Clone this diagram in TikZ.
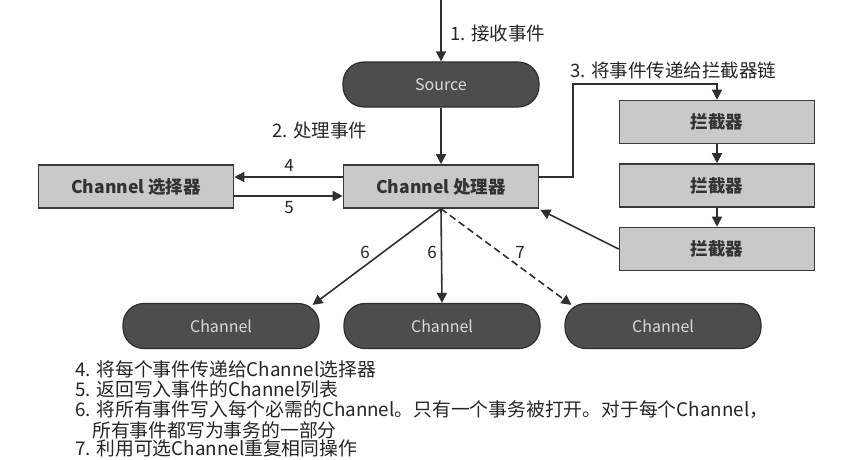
\documentclass[tikz,border=0pt]{standalone}
\usepackage{fontspec}
\setmainfont{Noto Sans CJK SC}
\usetikzlibrary{arrows.meta,calc}
\definecolor{pillfill}{HTML}{4D4D4D}
\definecolor{pillline}{HTML}{2E2E2E}
\definecolor{pilltext}{HTML}{DADADA}
\definecolor{boxfill}{HTML}{C9C9C9}
\definecolor{boxline}{HTML}{3A3A3A}
\definecolor{boxtext}{HTML}{333333}
\definecolor{linec}{HTML}{303030}
\definecolor{labc}{HTML}{262626}
\begin{document}
\begin{tikzpicture}[x=1pt,y=-1pt,
  pill/.style={rectangle,rounded corners=21pt,fill=pillfill,draw=pillline,line width=1.2pt,
     minimum width=196pt,minimum height=45pt,text=pilltext,font=\fontsize{16}{19}\selectfont,inner sep=0pt},
  gbox/.style={rectangle,fill=boxfill,draw=boxline,line width=1.6pt,
     minimum width=195pt,minimum height=43pt,text=boxtext,font=\fontsize{17.5}{20}\selectfont\bfseries,inner sep=0pt},
  arr/.style={draw=linec,line width=1.6pt,-{Triangle[length=10pt,width=10pt]}},
  lab/.style={text=labc,font=\fontsize{18.5}{21}\selectfont,inner sep=0pt},
  numlab/.style={text=labc,font=\fontsize{17}{20}\selectfont,inner sep=0pt},
  note/.style={text=labc,font=\fontsize{18.8}{21}\selectfont,inner sep=0pt,anchor=west}]
\useasboundingbox[fill=white] (0,0) rectangle (845,459);

% nodes
\node[pill] (source) at (441,84.5) {Source};
\node[gbox] (proc) at (441,186.5) {Channel 处理器};
\node[gbox] (sel) at (136,186.5) {Channel 选择器};
\node[gbox] (i1) at (717,122) {拦截器};
\node[gbox] (i2) at (717,185.5) {拦截器};
\node[gbox] (i3) at (717,249) {拦截器};
\node[pill] (ch1) at (221,326) {Channel};
\node[pill] (ch2) at (442,326) {Channel};
\node[pill] (ch3) at (663,326) {Channel};

\coordinate (top) at (441,0);
\coordinate (c3) at (573,84);

% connectors
\draw[arr] (top) -- (source.north);
\draw[arr] (source) -- (proc);
\draw[arr] ([yshift=9.5pt]proc.west) -- ([yshift=9.5pt]sel.east);
\draw[arr] ([yshift=-9.5pt]sel.east) -- ([yshift=-9.5pt]proc.west);
\draw[arr] ([yshift=9.5pt]proc.east) -| (c3) -| (i1.north);
\draw[arr] (i1) -- (i2);
\draw[arr] (i2) -- (i3);
\draw[arr] (i3.west) -- ([xshift=1pt,yshift=-1pt]proc.south east);
\draw[arr] (proc.south) -- ([xshift=-7pt,yshift=-2pt]ch1.north east);
\draw[arr] (proc.south) -- (ch2.north);
\draw[arr,dashed,dash pattern=on 7pt off 4pt] (proc.south) -- ([xshift=7pt,yshift=-2pt]ch3.north west);

% labels
\node[lab,anchor=west] (l1) at (450,33) {1. 接收事件};
\node[lab,anchor=west] (l2) at (272,130) {2. 处理事件};
\node[lab,anchor=west] (l3) at (570,70) {3. 将事件传递给拦截器链};
\node[numlab] (l4) at (289,165) {4};
\node[numlab] (l5) at (289,208) {5};
\node[numlab] (l6a) at (365,252) {6};
\node[numlab] (l6b) at (432,252) {6};
\node[numlab] (l7) at (520,252) {7};

% notes
\node[note] (n4) at (75,369) {4. 将每个事件传递给Channel选择器};
\node[note] (n5) at (75,389.5) {5. 返回写入事件的Channel列表};
\node[note] (n6) at (75,410) {6. 将所有事件写入每个必需的Channel。只有一个事务被打开。对于每个Channel，};
\node[note] (n6b) at (92,430.5) {所有事件都写为事务的一部分};
\node[note] (n7) at (75,448) {7. 利用可选Channel重复相同操作};
\end{tikzpicture}
\end{document}
